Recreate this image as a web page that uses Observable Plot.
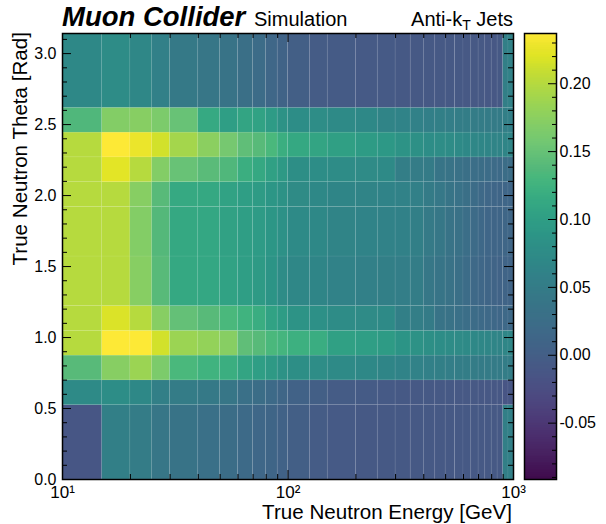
<!DOCTYPE html>
<html>
<head>
<meta charset="utf-8">
<script src="https://cdn.jsdelivr.net/npm/d3@7"></script>
<script src="https://cdn.jsdelivr.net/npm/@observablehq/plot@0.6"></script>
<style>
  body { margin: 0; background: #fff; }
  #chart { position: relative; width: 606px; height: 524px; font-family: "Liberation Sans", Arial, sans-serif; }
  #chart > svg { position: absolute; top: 0; }
</style>
</head>
<body>
<div id="chart"></div>
<script>
// Energy bin edges [GeV] (log axis)
const energyEdges = [10, 15, 20, 25, 30, 40, 50, 60, 70, 80, 90, 100, 125, 150, 200, 250,
  300, 350, 400, 450, 500, 550, 600, 650, 700, 750, 800, 850, 900, 950, 1000];

// Theta bin edges [deg]
const thetaEdgesDeg = [0, 30, 40, 50, 60, 70, 90, 110, 120, 130, 140, 150, 180];

// Cell values for each theta bin, one entry per energy bin
const theta0to30    = [-0.012, 0.055, 0.050, 0.040, 0.035, 0.030, 0.025, 0.020, 0.015, 0.010, 0.005,
  0.000, -0.004, -0.006, -0.007, -0.007, -0.007, -0.008, -0.008, -0.008, -0.008, -0.008, -0.008, -0.008, -0.008, -0.008, -0.008, -0.008, 0.055, 0.058];
const theta30to40   = [0.072, 0.078, 0.070, 0.055, 0.050, 0.045, 0.040, 0.030, 0.025, 0.020, 0.012,
  0.005, 0.000, -0.004, -0.005, -0.006, -0.007, -0.007, -0.008, -0.008, -0.008, -0.009, -0.009, -0.009, -0.010, -0.010, -0.010, -0.010, -0.015, -0.012];
const theta40to50   = [0.140, 0.172, 0.185, 0.165, 0.132, 0.125, 0.120, 0.108, 0.100, 0.092, 0.085,
  0.080, 0.077, 0.072, 0.069, 0.066, 0.062, 0.060, 0.058, 0.056, 0.054, 0.052, 0.051, 0.050, 0.049, 0.048, 0.048, 0.048, 0.052, 0.052];
const theta50to60   = [0.200, 0.237, 0.236, 0.214, 0.185, 0.180, 0.172, 0.145, 0.140, 0.132, 0.128,
  0.122, 0.118, 0.103, 0.100, 0.096, 0.088, 0.085, 0.081, 0.078, 0.076, 0.074, 0.072, 0.070, 0.068, 0.067, 0.066, 0.065, 0.067, 0.067];
const theta60to70   = [0.200, 0.218, 0.200, 0.172, 0.148, 0.140, 0.133, 0.125, 0.118, 0.105, 0.098,
  0.086, 0.083, 0.076, 0.074, 0.072, 0.056, 0.053, 0.048, 0.036, 0.033, 0.030, 0.026, 0.023, 0.020, 0.018, 0.016, 0.015, 0.017, 0.017];
const theta70to90   = [0.200, 0.200, 0.172, 0.140, 0.113, 0.110, 0.105, 0.100, 0.094, 0.088, 0.076,
  0.068, 0.066, 0.060, 0.058, 0.056, 0.054, 0.052, 0.043, 0.038, 0.033, 0.028, 0.022, 0.018, 0.014, 0.011, 0.009, 0.007, 0.009, 0.009];
const theta90to110  = [0.200, 0.200, 0.170, 0.138, 0.112, 0.110, 0.104, 0.100, 0.095, 0.090, 0.084,
  0.072, 0.069, 0.065, 0.063, 0.061, 0.059, 0.056, 0.046, 0.042, 0.036, 0.032, 0.026, 0.021, 0.016, 0.013, 0.011, 0.010, 0.012, 0.012];
const theta110to120 = [0.200, 0.200, 0.172, 0.140, 0.115, 0.113, 0.105, 0.100, 0.097, 0.090, 0.085,
  0.073, 0.070, 0.066, 0.064, 0.062, 0.060, 0.058, 0.048, 0.044, 0.038, 0.034, 0.028, 0.023, 0.018, 0.015, 0.013, 0.011, 0.013, 0.013];
const theta120to130 = [0.200, 0.222, 0.200, 0.170, 0.150, 0.142, 0.135, 0.120, 0.113, 0.103, 0.092,
  0.080, 0.078, 0.076, 0.074, 0.072, 0.053, 0.050, 0.048, 0.038, 0.035, 0.032, 0.028, 0.026, 0.024, 0.022, 0.021, 0.020, 0.024, 0.024];
const theta130to140 = [0.200, 0.237, 0.228, 0.214, 0.190, 0.175, 0.160, 0.145, 0.140, 0.132, 0.120,
  0.112, 0.108, 0.101, 0.097, 0.091, 0.086, 0.082, 0.079, 0.077, 0.075, 0.072, 0.070, 0.068, 0.067, 0.066, 0.065, 0.064, 0.066, 0.066];
const theta140to150 = [0.135, 0.170, 0.172, 0.165, 0.150, 0.115, 0.100, 0.108, 0.105, 0.095, 0.085,
  0.078, 0.077, 0.072, 0.069, 0.065, 0.062, 0.059, 0.057, 0.055, 0.054, 0.052, 0.051, 0.050, 0.050, 0.049, 0.049, 0.049, 0.055, 0.057];
const theta150to180 = [0.070, 0.075, 0.068, 0.058, 0.045, 0.040, 0.035, 0.028, 0.022, 0.015, 0.008,
  0.000, -0.003, -0.005, -0.006, -0.006, -0.007, -0.007, -0.008, -0.008, -0.008, -0.008, -0.009, -0.009, -0.009, -0.010, -0.010, -0.008, 0.055, 0.060];

// Colour range and tick values
const colorDomain = [-0.0915, 0.237];
const xMajorTicks = [10, 100, 1000];
const xMinorTicks = [20, 30, 40, 50, 60, 70, 80, 90, 200, 300, 400, 500, 600, 700, 800, 900];
const xTickLabels = ["10\u00b9", "10\u00b2", "10\u00b3"];
const yMajorTicks = [0, 0.5, 1.0, 1.5, 2.0, 2.5, 3.0];
const yMinorTicks = [0.1, 0.2, 0.3, 0.4, 0.6, 0.7, 0.8, 0.9, 1.1, 1.2, 1.3, 1.4, 1.6, 1.7, 1.8, 1.9,
  2.1, 2.2, 2.3, 2.4, 2.6, 2.7, 2.8, 2.9, 3.1];
const cbMajorTicks = [-0.05, 0.00, 0.05, 0.10, 0.15, 0.20];
const cbMinorTicks = [-0.09, -0.08, -0.07, -0.06, -0.04, -0.03, -0.02, -0.01, 0.01, 0.02, 0.03, 0.04,
  0.06, 0.07, 0.08, 0.09, 0.11, 0.12, 0.13, 0.14, 0.16, 0.17, 0.18, 0.19, 0.21, 0.22, 0.23];

const thetaRows = [theta0to30, theta30to40, theta40to50, theta50to60, theta60to70, theta70to90,
  theta90to110, theta110to120, theta120to130, theta130to140, theta140to150, theta150to180];

const deg = Math.PI / 180;
const cells = [];
thetaRows.forEach((row, i) => {
  row.forEach((v, j) => {
    cells.push({
      e1: energyEdges[j], e2: energyEdges[j + 1],
      t1: thetaEdgesDeg[i] * deg, t2: thetaEdgesDeg[i + 1] * deg,
      v
    });
  });
});

const W = 606, H = 524;
const mL = 62, mR = 93, mT = 33, mB = 45;
const frameW = W - mL - mR, frameH = H - mT - mB;
const font = "Liberation Sans, Arial, Helvetica, sans-serif";

// viridis, with the blue-green middle of the ramp slightly softened
const softViridis = t => {
  const c = d3.hsl(d3.interpolateViridis(t));
  c.s *= 0.76 + 0.24 * t * t * t;
  c.l = Math.min(1, c.l * (1.02 + 0.04 * t));
  return c.formatRgb();
};
const colorScale = {type: "linear", interpolate: () => softViridis, domain: colorDomain, clamp: true};

const heatmap = Plot.plot({
  width: W, height: H,
  marginLeft: mL, marginRight: mR, marginTop: mT, marginBottom: mB,
  style: {fontFamily: font, fontSize: "16px", color: "#000", background: "transparent", overflow: "visible"},
  x: {type: "log", domain: [10, 1000], axis: null},
  y: {domain: [0, Math.PI], axis: null},
  color: colorScale,
  marks: [
    Plot.rect(cells, {x1: "e1", x2: "e2", y1: "t1", y2: "t2", fill: "v",
      stroke: "#ffffff", strokeOpacity: 0.08, strokeWidth: 0.7}),
    // inward ticks on all four sides
    Plot.tickX(xMajorTicks, {x: d => d, insetTop: frameH - 9, stroke: "#000"}),
    Plot.tickX(xMinorTicks, {x: d => d, insetTop: frameH - 5, stroke: "#000"}),
    Plot.tickX(xMajorTicks, {x: d => d, insetBottom: frameH - 9, stroke: "#000"}),
    Plot.tickX(xMinorTicks, {x: d => d, insetBottom: frameH - 5, stroke: "#000"}),
    Plot.tickY(yMajorTicks, {y: d => d, insetRight: frameW - 9, stroke: "#000"}),
    Plot.tickY(yMinorTicks, {y: d => d, insetRight: frameW - 5, stroke: "#000"}),
    Plot.tickY(yMajorTicks, {y: d => d, insetLeft: frameW - 9, stroke: "#000"}),
    Plot.tickY(yMinorTicks, {y: d => d, insetLeft: frameW - 5, stroke: "#000"}),
    Plot.frame({stroke: "#000", strokeWidth: 1.5}),
    Plot.text(yMajorTicks, {y: d => d, text: d => d.toFixed(1), frameAnchor: "left",
      dx: -6, textAnchor: "end", fontSize: 16, fill: "#000"}),
    Plot.text(xMajorTicks, {x: d => d, text: (d, i) => xTickLabels[i], frameAnchor: "bottom",
      dy: 6, lineAnchor: "top", fontSize: 17, fill: "#000"})
  ]
});

// Colour bar
const cbW = 82, cbFrameW = 32;
const steps = 446;
const ramp = d3.range(steps).map(i => [
  colorDomain[0] + (colorDomain[1] - colorDomain[0]) * i / steps,
  colorDomain[0] + (colorDomain[1] - colorDomain[0]) * (i + 1) / steps
]);
const colorbar = Plot.plot({
  width: cbW, height: H,
  marginLeft: 0, marginRight: cbW - cbFrameW, marginTop: mT, marginBottom: mB,
  style: {fontFamily: font, fontSize: "16px", color: "#000", background: "transparent", overflow: "visible"},
  x: {domain: [0, 1], axis: null},
  y: {domain: colorDomain, axis: null},
  color: colorScale,
  marks: [
    Plot.rect(ramp, {x1: 0, x2: 1, y1: d => d[0], y2: d => d[1], fill: d => (d[0] + d[1]) / 2,
      shapeRendering: "crispEdges"}),
    Plot.tickY(cbMajorTicks, {y: d => d, insetLeft: cbFrameW - 8, stroke: "#000"}),
    Plot.tickY(cbMinorTicks, {y: d => d, insetLeft: cbFrameW - 4, stroke: "#000"}),
    Plot.frame({stroke: "#000", strokeWidth: 1.5}),
    Plot.text(cbMajorTicks, {y: d => d, text: d => d.toFixed(2), frameAnchor: "right",
      dx: 3, textAnchor: "start", fontSize: 16, fill: "#000"})
  ]
});

// Titles and axis labels
const labels = d3.create("svg")
  .attr("width", W).attr("height", H)
  .style("font-family", font)
  .style("pointer-events", "none");
labels.append("text").attr("x", 62).attr("y", 26)
  .attr("font-size", 27.5).attr("font-weight", "bold").attr("font-style", "italic")
  .text("Muon Collider");
labels.append("text").attr("x", 254).attr("y", 26).attr("font-size", 20).text("Simulation");
const jets = labels.append("text").attr("x", 513).attr("y", 26)
  .attr("font-size", 20).attr("text-anchor", "end");
jets.append("tspan").text("Anti-k");
jets.append("tspan").attr("font-size", 14).attr("dy", 4).text("T");
jets.append("tspan").attr("dy", -4).text(" Jets");
labels.append("text").attr("x", 512).attr("y", 519)
  .attr("font-size", 20.6).attr("text-anchor", "end")
  .text("True Neutron Energy [GeV]");
labels.append("text").attr("transform", "translate(27,32) rotate(-90)")
  .attr("font-size", 20.6).attr("text-anchor", "end")
  .text("True Neutron Theta [Rad]");

const chart = document.getElementById("chart");
heatmap.style.left = "0px";
colorbar.style.left = "524px";
const labelsNode = labels.node();
labelsNode.style.left = "0px";
chart.append(heatmap, colorbar, labelsNode);
</script>
</body>
</html>
